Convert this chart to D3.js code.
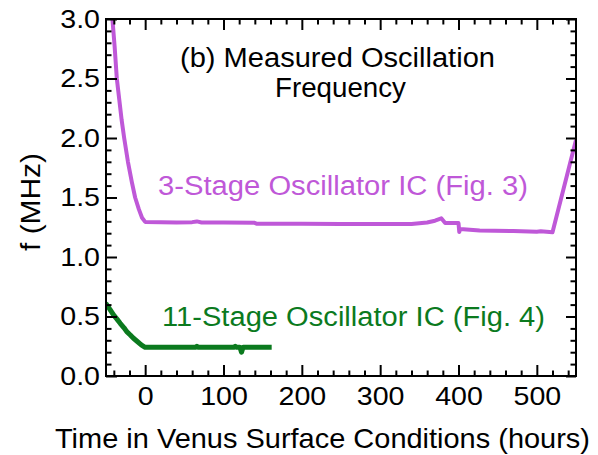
<!DOCTYPE html>
<html>
<head>
<meta charset="utf-8">
<script src="https://cdn.jsdelivr.net/npm/d3@7"></script>
<style>
  body { margin: 0; background: #fff; }
  text { font-family: "Liberation Sans", Arial, sans-serif; }
</style>
</head>
<body>
<svg id="chart" width="598" height="455"></svg>
<script>
// Chart data
//

// 3-stage oscillator IC, hours vs MHz
var hours_3stage = [-44, -41.8, -39, -36.2, -33, -30, -26.8, -22, -17, -12.8, -8, -4, 0,
  20, 40, 60, 66, 72, 100, 139, 142, 200, 250, 300, 340, 360, 370, 378, 383,
  400, 401, 402, 427, 470, 500, 505, 520, 550];
var freq_3stage = [3.15, 3.0, 2.77, 2.5, 2.32, 2.15, 2.0, 1.8, 1.63, 1.5, 1.4, 1.33, 1.295,
  1.292, 1.29, 1.293, 1.299, 1.29, 1.29, 1.288, 1.28, 1.279, 1.277, 1.277, 1.278, 1.29, 1.305, 1.325, 1.285,
  1.285, 1.21, 1.235, 1.222, 1.218, 1.213, 1.216, 1.208, 1.983];

// 11-stage oscillator IC, hours vs MHz
var hours_11stage = [-50.4, -45, -40.4, -36, -31.9, -27, -23.5, -19, -14.9, -10, -5, 0,
  30, 64, 66, 68, 113, 115, 117, 121, 123, 125, 161.5];
var freq_11stage = [0.611, 0.56, 0.513, 0.478, 0.443, 0.405, 0.373, 0.345, 0.317, 0.29, 0.262, 0.241,
  0.241, 0.241, 0.25, 0.241, 0.241, 0.25, 0.241, 0.241, 0.2, 0.241, 0.241];

var x_ticks = [0, 100, 200, 300, 400, 500];
var x_minor = [-40, -20, 20, 40, 60, 80, 120, 140, 160, 180, 220, 240, 260, 280,
  320, 340, 360, 380, 420, 440, 460, 480, 520, 540];
var y_ticks = [0, 0.5, 1.0, 1.5, 2.0, 2.5, 3.0];
var y_minor = [0.1, 0.2, 0.3, 0.4, 0.6, 0.7, 0.8, 0.9, 1.1, 1.2, 1.3, 1.4, 1.6, 1.7, 1.8, 1.9,
  2.1, 2.2, 2.3, 2.4, 2.6, 2.7, 2.8, 2.9];

var title_lines = ["(b) Measured Oscillation", "Frequency"];
var label_3stage = "3-Stage Oscillator IC (Fig. 3)";
var label_11stage = "11-Stage Oscillator IC (Fig. 4)";
var x_title = "Time in Venus Surface Conditions (hours)";
var y_title = "f (MHz)";

// Layout
//
var plot_left = 106, plot_right = 576, plot_top = 19, plot_bottom = 376;
var tick_font = 26;
var purple = "#bf58d8";
var green = "#0b7a1e";

var svg = d3.select("#chart");

var x = d3.scaleLinear().domain([-50, 550]).range([plot_left, plot_right]);
var y = d3.scaleLinear().domain([0, 3]).range([plot_bottom, plot_top]);

function stretch(sel, k) {
  // widen text a little, the reference font runs wide
  sel.each(function() {
    var w = this.getComputedTextLength();
    d3.select(this).attr("textLength", w * k).attr("lengthAdjust", "spacingAndGlyphs");
  });
}

function style_axis(g, labels) {
  g.select(".domain").remove();
  g.selectAll(".tick line").attr("stroke", "#000").attr("stroke-width", 2);
  if (labels) {
    g.selectAll(".tick text")
      .attr("fill", "#000")
      .style("font-size", tick_font + "px")
      .style("font-family", "'Liberation Sans', Arial, sans-serif");
    stretch(g.selectAll(".tick text"), 1.1);
  }
}

// data lines, clipped to the frame
svg.append("clipPath").attr("id", "plot-clip")
  .append("rect")
  .attr("x", plot_left).attr("y", plot_top)
  .attr("width", plot_right - plot_left).attr("height", plot_bottom - plot_top);

var line = d3.line()
  .x(function(d) { return x(d[0]); })
  .y(function(d) { return y(d[1]); });

var plot = svg.append("g").attr("clip-path", "url(#plot-clip)");

plot.append("path")
  .datum(d3.zip(hours_3stage, freq_3stage))
  .attr("fill", "none")
  .attr("stroke", purple)
  .attr("stroke-width", 4)
  .attr("stroke-linejoin", "round")
  .attr("d", line);

plot.append("path")
  .datum(d3.zip(hours_11stage, freq_11stage))
  .attr("fill", "none")
  .attr("stroke", green)
  .attr("stroke-width", 5)
  .attr("stroke-linejoin", "round")
  .attr("d", line);

// axes: ticks point inward on all four sides
var gx = svg.append("g").attr("transform", "translate(0," + plot_bottom + ")")
  .call(d3.axisBottom(x).tickValues(x_ticks).tickSize(-11).tickPadding(11)
    .tickFormat(d3.format("d")));
style_axis(gx, true);

var gy = svg.append("g").attr("transform", "translate(" + plot_left + ",0)")
  .call(d3.axisLeft(y).tickValues(y_ticks).tickSize(-11).tickPadding(6)
    .tickFormat(d3.format(".1f")));
style_axis(gy, true);
gy.selectAll(".tick text").attr("x", -6);

var gt = svg.append("g").attr("transform", "translate(0," + plot_top + ")")
  .call(d3.axisTop(x).tickValues(x_ticks).tickSize(-11).tickFormat(""));
style_axis(gt, false);

var gr = svg.append("g").attr("transform", "translate(" + plot_right + ",0)")
  .call(d3.axisRight(y).tickValues(y_ticks).tickSize(-10).tickFormat(""));
style_axis(gr, false);

// minor ticks
[
  [d3.axisBottom(x).tickValues(x_minor), "translate(0," + plot_bottom + ")"],
  [d3.axisTop(x).tickValues(x_minor), "translate(0," + plot_top + ")"],
  [d3.axisLeft(y).tickValues(y_minor), "translate(" + plot_left + ",0)"],
  [d3.axisRight(y).tickValues(y_minor), "translate(" + plot_right + ",0)"]
].forEach(function(a) {
  var g = svg.append("g").attr("transform", a[1])
    .call(a[0].tickSize(-5.5).tickFormat(""));
  style_axis(g, false);
});

// frame
svg.append("rect")
  .attr("x", plot_left).attr("y", plot_top)
  .attr("width", plot_right - plot_left).attr("height", plot_bottom - plot_top)
  .attr("fill", "none")
  .attr("stroke", "#000")
  .attr("stroke-width", 2);

// texts
function add_text(txt, px, py, width, color, size) {
  return svg.append("text")
    .attr("x", px).attr("y", py)
    .attr("fill", color)
    .style("font-size", size + "px")
    .attr("textLength", width)
    .attr("lengthAdjust", "spacingAndGlyphs")
    .text(txt);
}

add_text(title_lines[0], 180, 67, 315, "#000", 27);
add_text(title_lines[1], 275, 97, 131, "#000", 27);
add_text(label_3stage, 158, 195, 370, purple, 27);
add_text(label_11stage, 162, 326, 383, green, 27);
add_text(x_title, 55, 448, 535, "#000", 28);

svg.append("text")
  .attr("transform", "translate(40,202) rotate(-90)")
  .attr("text-anchor", "middle")
  .attr("fill", "#000")
  .style("font-size", "28px")
  .attr("textLength", 98)
  .attr("lengthAdjust", "spacingAndGlyphs")
  .text(y_title);
</script>
</body>
</html>
